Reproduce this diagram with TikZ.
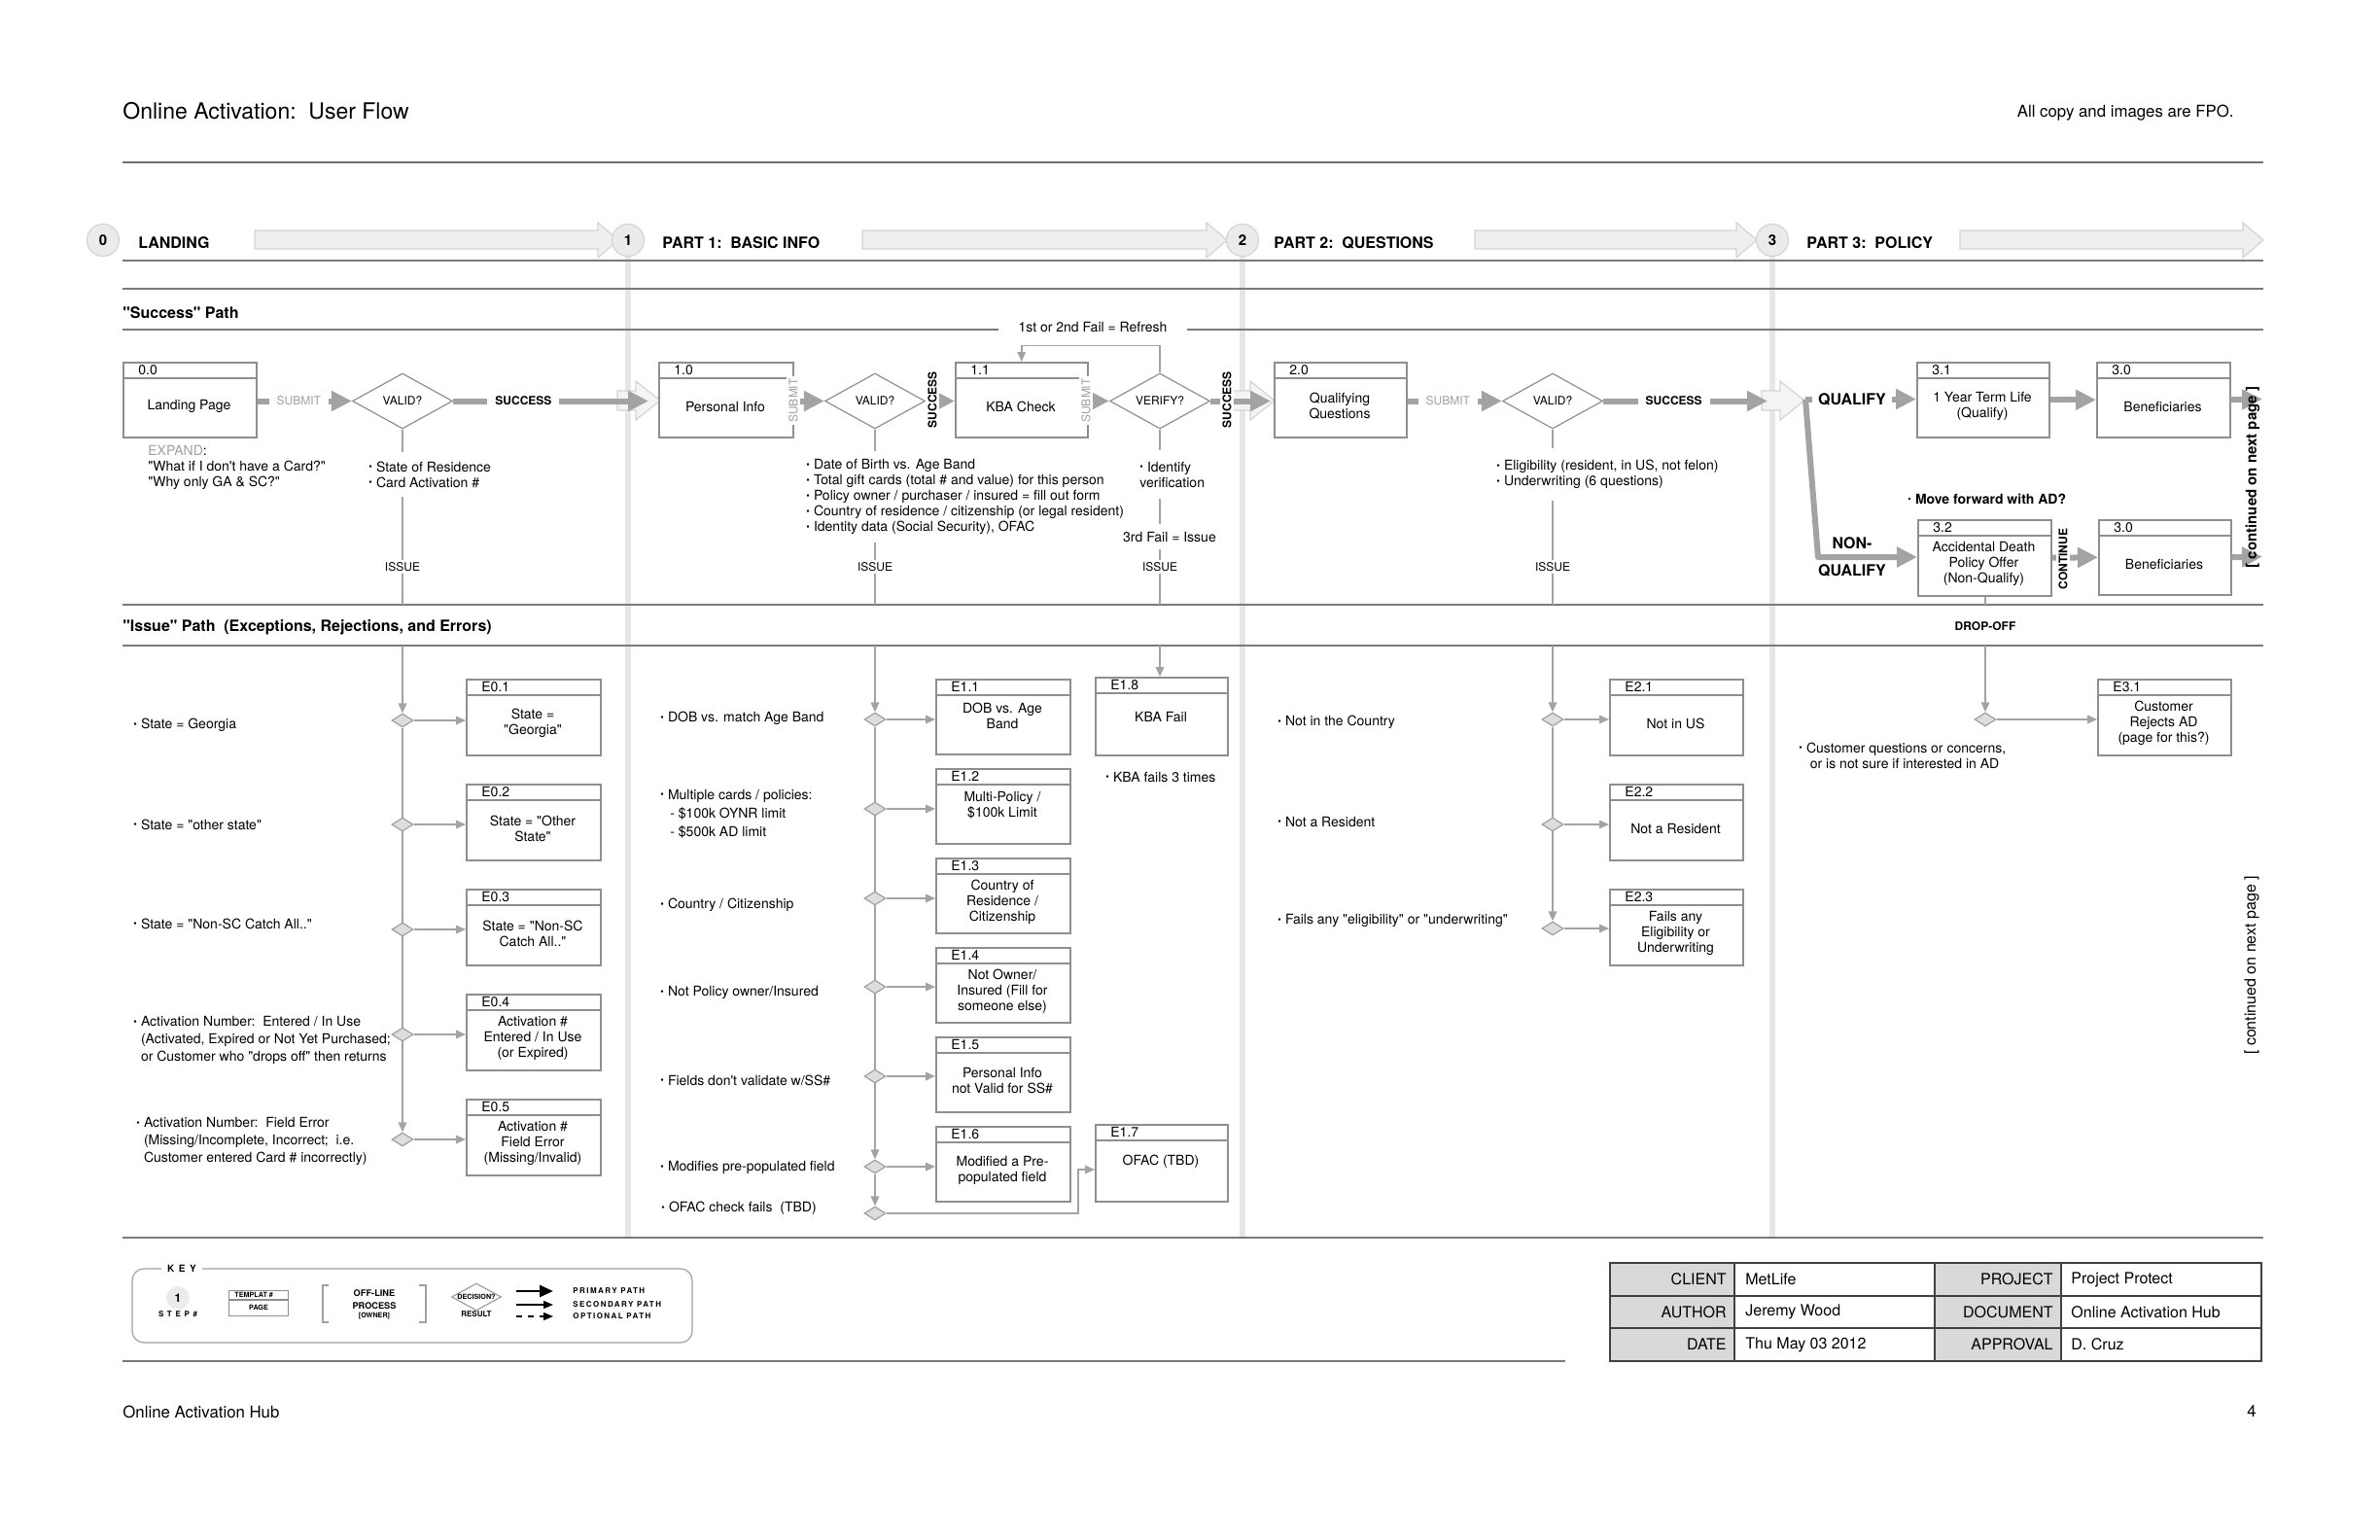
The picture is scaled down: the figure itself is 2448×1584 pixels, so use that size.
\documentclass[tikz,border=0pt]{standalone}
\usepackage{fontspec}
\setmainfont{TeX Gyre Heros}[Ligatures=TeXOff]
\newfontfamily\spaced[LetterSpace=18]{TeX Gyre Heros}
\usetikzlibrary{arrows.meta,calc,shapes.geometric}
\pgfdeclarelayer{back}
\pgfdeclarelayer{bg}
\pgfsetlayers{back,bg,main}
\definecolor{boxgray}{HTML}{8F8F8F}
\definecolor{arrgray}{HTML}{A3A3A3}
\definecolor{rulegray}{HTML}{7A7A7A}
\definecolor{sepgray}{HTML}{E6E6E6}
\definecolor{phasefill}{HTML}{EFEFEF}
\definecolor{phaseline}{HTML}{D4D4D4}
\definecolor{cellgray}{HTML}{D9D9D9}
\definecolor{sdfill}{HTML}{DDDDDD}
\definecolor{subgray}{HTML}{A0A0A0}
\definecolor{circfill}{HTML}{EBEBEB}
\newcommand\fs[2]{\fontsize{#1}{#2}\selectfont}
\newcommand\bul{\makebox[3.8pt][l]{\raisebox{0.6pt}{\fontsize{5}{5}\selectfont •}}}
\newcommand\bind{\hspace*{3.8pt}}
% page box: name, xl, yt, xr, yb, number, text y, text
\newcommand\pgbox[8]{%
  \pgfmathsetmacro\bw{(#4-#2)*0.5}\pgfmathsetmacro\bh{(#5-#3)*0.5}%
  \node[pagebox, minimum width=\bw pt, minimum height=\bh pt, anchor=north west] (#1) at (#2,#3) {};
  \draw[boxline] ([yshift=-8.5pt]#1.north west) -- ([yshift=-8.5pt]#1.north east);
  \node[boxnum, anchor=west] (#1-n) at ([xshift=8pt,yshift=-4.25pt]#1.north west) {#6};
  \node[boxtext] (#1-t) at ({(#2+#4)/2},#7) {#8};
}
\newcommand\phasearrow[2]{\draw[draw=phaseline, fill=phasefill, line width=0.6pt] (#1,237) -- ({#2-21},237) -- ({#2-21},229) -- (#2,247) -- ({#2-21},265) -- ({#2-21},256) -- (#1,256) -- cycle;}
\newcommand\chev[1]{\draw[draw=phaseline, fill=phasefill!70, line width=0.6pt] ({#1-11},402) -- ({#1+8},402) -- ({#1+8},392) -- ({#1+33},412) -- ({#1+8},432) -- ({#1+8},422) -- ({#1-11},422) -- cycle;}
\begin{document}
\begin{tikzpicture}[x=0.5pt,y=-0.5pt,
  pagebox/.style={draw=boxgray, line width=0.75pt, fill=white, inner sep=0pt, rectangle},
  boxline/.style={draw=boxgray, line width=0.75pt},
  boxnum/.style={inner sep=0pt, font=\fs{7}{8}},
  boxtext/.style={inner sep=0pt, align=center, font=\fs{7}{8}},
  bigdia/.style={diamond, draw=boxgray, fill=white, line width=0.6pt, minimum width=51.5pt, minimum height=28.5pt, inner sep=0pt, aspect=1.8, font=\fs{6}{7}},
  smdia/.style={diamond, draw=subgray, fill=sdfill, line width=0.6pt, minimum width=11pt, minimum height=7pt, inner sep=0pt, aspect=1.6},
  pri/.style={draw=arrgray, line width=3pt, -{Triangle[length=10.5pt,width=10pt]}},
  sec/.style={draw=arrgray, line width=0.75pt, -{Triangle[length=5pt,width=4.3pt]}},
  secline/.style={draw=arrgray, line width=0.75pt},
  hrule/.style={draw=rulegray, line width=1pt},
  lab/.style={fill=white, inner sep=1.2pt, font=\fs{6}{7}},
  blab/.style={fill=white, inner sep=1.2pt, font=\fs{6}{7}\bfseries},
  bullets/.style={inner sep=0pt, align=left, anchor=west, font=\fs{7}{8}},
  stepc/.style={circle, fill=circfill, draw=phaseline, line width=0.6pt, minimum size=16.5pt, inner sep=0pt, font=\fs{7.5}{8}\bfseries},
  phlab/.style={anchor=west, inner sep=0pt, font=\fs{8}{9}\bfseries},
  tl/.style={inner sep=0pt, font=\fs{8}{9}},
  keyt/.style={inner sep=0pt, font=\spaced\bfseries\fs{4}{5}},
]
\useasboundingbox (0,0) rectangle (2448,1584);
\begin{pgfonlayer}{back}
\fill[white] (0,0) rectangle (2448,1584);
\end{pgfonlayer}

% header
\node[anchor=west, inner sep=0pt, font=\fs{11.5}{13}] (title) at (126,114) {Online Activation:\ \ User Flow};
\node[anchor=east, inner sep=0pt, font=\fs{8.4}{10}] (fpo) at (2298,116) {All copy and images are FPO.};
\draw[draw=rulegray!90!black, line width=1.2pt] (126,167) -- (2328,167);

% separators
\foreach \x in {646,1278,1823} \draw[draw=sepgray, line width=3pt] (\x,247) -- (\x,1273);

% horizontal rules
\draw[hrule] (126,268) -- (2328,268);
\draw[draw=rulegray, line width=0.6pt] (126,297) -- (2328,297);
\node[anchor=west, inner sep=0pt, font=\fs{8}{9}\bfseries] (succp) at (126,322) {"Success" Path};
\node[inner xsep=10pt, inner ysep=0pt, font=\fs{7}{8}] (refresh) at (1124,336) {1st or 2nd Fail = Refresh};
\coordinate (r339a) at (126,339);
\coordinate (r339b) at (2328,339);
\draw[hrule] (r339a) -- (r339a -| refresh.west);
\draw[hrule] (r339b -| refresh.east) -- (r339b);
\draw[hrule] (126,622) -- (2328,622);
\node[anchor=west, inner sep=0pt, font=\fs{8}{9}\bfseries] (issp) at (126,645) {"Issue" Path\ \ (Exceptions, Rejections, and Errors)};
\draw[hrule] (126,664) -- (2328,664);
\draw[hrule] (126,1273) -- (2328,1273);

% phase header
\phasearrow{262}{636}
\phasearrow{887}{1262}
\phasearrow{1517}{1807}
\phasearrow{2016}{2328}
\node[stepc] (c0) at (106,247) {0};
\node[stepc] (c1) at (646,247) {1};
\node[stepc] (c2) at (1278,247) {2};
\node[stepc] (c3) at (1823,247) {3};
\node[phlab] (p0) at (142,250) {LANDING};
\node[phlab] (p1) at (681,250) {PART 1:\ \ BASIC INFO};
\node[phlab] (p2) at (1310,250) {PART 2:\ \ QUESTIONS};
\node[phlab] (p3) at (1858,250) {PART 3:\ \ POLICY};

% chevrons at phase boundaries
\chev{646}
\chev{1278}
\chev{1823}

% success row
\pgbox{b00}{126}{372}{263}{449}{0.0}{418}{Landing Page}
\node[bigdia] (d0) at (414,412.5) {VALID?};
\pgbox{b10}{677}{372}{815}{449}{1.0}{418}{Personal Info}
\node[bigdia] (d1) at (900,412.5) {VALID?};
\pgbox{b11}{982}{372}{1118}{449}{1.1}{418}{KBA Check}
\node[bigdia] (d2) at (1193,412.5) {VERIFY?};
\pgbox{b20}{1310}{372}{1446}{449}{2.0}{418}{Qualifying\\Questions}
\node[bigdia] (d3) at (1597,412.5) {VALID?};
\pgbox{b31}{1971}{372}{2107}{449}{3.1}{418}{1 Year Term Life\\(Qualify)}
\pgbox{b30a}{2156}{372}{2293}{449}{3.0}{418}{Beneficiaries}
\pgbox{b32}{1972}{534}{2109}{612}{3.2}{580}{Accidental Death\\Policy Offer\\(Non-Qualify)}
\pgbox{b30b}{2158}{534}{2294}{611}{3.0}{580}{Beneficiaries}

\node[anchor=west, inner sep=0pt, align=left, font=\fs{7}{8.2}] (expand) at (152,481) {{\color{subgray}EXPAND}:\\"What if I don't have a Card?"\\"Why only GA \& SC?"};

\draw[pri] (b00.east |- d0) -- node[lab, text=subgray, pos=0.44, inner xsep=4pt] (sub0) {SUBMIT} (d0.west);
\draw[pri] (d0.east) -- node[blab, pos=0.36, inner xsep=4pt] (suc0) {SUCCESS} ($(b10.west |- d0)+(-10,0)$);
\draw[pri] (b10.east |- d1) -- (d1.west);
\node[lab, rotate=90, text=subgray] (sub10) at (816,412) {SUBMIT};
\draw[pri] (d1.east) -- (b11.west |- d1);
\node[blab, rotate=90] (suc1) at (959,411) {SUCCESS};
\draw[pri] (b11.east |- d2) -- (d2.west);
\node[lab, rotate=90, text=subgray] (sub11) at (1117,412) {SUBMIT};
\draw[sec] (d2.north) -- ++(0,-28) -| (b11.north);
\draw[pri] (d2.east) -- ($(b20.west |- d2)+(-3,0)$);
\node[blab, rotate=90] (suc2) at (1262,411) {SUCCESS};
\draw[pri] (b20.east |- d3) -- node[lab, text=subgray, pos=0.43, inner xsep=4pt] (sub2) {SUBMIT} (d3.west);
\coordinate (s3tip) at (1818,412.5);
\draw[pri] (d3.east) -- node[blab, pos=0.43, inner xsep=4pt] (suc3) {SUCCESS} (s3tip);

% part 3 branches
\coordinate (br) at (1857,410.5);
\coordinate (br2) at (1870,573);
\draw[pri] (br) -- node[fill=white, inner xsep=3pt, inner ysep=1pt, font=\fs{8}{9}\bfseries, pos=0.42] (qual) {QUALIFY} (b31.west |- br);
\draw[pri, line join=round] (br) -- (br2) -- (b32.west |- br2);
\node[inner sep=0pt, font=\fs{8}{9}\bfseries] (nonq1) at (1905,559) {NON-};
\node[inner sep=0pt, font=\fs{8}{9}\bfseries] (nonq2) at (1905,587) {QUALIFY};
\draw[pri] (b31.east) -- (b30a.west);
\coordinate (cont1) at (2327,410.5);
\draw[pri] (b30a.east) -- (cont1);
\draw[pri] (b32.east) -- (b30b.west);
\node[blab, rotate=90] (contl) at (2122,575) {CONTINUE};
\coordinate (cont2) at (2327,572.5);
\draw[pri] (b30b.east) -- (cont2);
\node[anchor=west, inner sep=0pt, font=\fs{7}{8}\bfseries] (mf) at (1962,513) {\bul Move forward with AD?};
\node[rotate=90, inner sep=0pt, font=\fs{7.5}{8}\bfseries] (cnp1) at (2317,491) {[ continued on next page ]};
\node[rotate=90, inner sep=0pt, font=\fs{8}{9}] (cnp2) at (2316,993) {[ continued on next page ]};

% issue drops from success row
\coordinate (i0a) at (414,622);  \coordinate (i0b) at (414,664);
\coordinate (i1a) at (900,622);  \coordinate (i1b) at (900,664);
\coordinate (i2a) at (1193,622); \coordinate (i2b) at (1193,664);
\coordinate (i3a) at (1597,622); \coordinate (i3b) at (1597,664);
\coordinate (i4a) at (2042,622); \coordinate (i4b) at (2042,664);
\draw[secline] (d0.south) -- (i0a);
\draw[secline] (d1.south) -- (i1a);
\draw[secline] (d2.south) -- (i2a);
\draw[secline] (d3.south) -- (i3a);
\draw[secline] (b32.south -| i4a) -- (i4a);

\node[bullets, fill=white, inner ysep=5pt, inner xsep=2pt] (bl0) at (375,488) {\bul State of Residence\\\bul Card Activation \#};
\node[lab] (is0) at (414,583) {ISSUE};
\node[bullets, fill=white, inner ysep=4pt, inner xsep=2pt] (bl1) at (825,511) {\bul Date of Birth vs. Age Band\\\bul Total gift cards (total \# and value) for this person\\\bul Policy owner / purchaser / insured = fill out form\\\bul Country of residence / citizenship (or legal resident)\\\bul Identity data (Social Security), OFAC};
\node[lab] (is1) at (900,583) {ISSUE};
\node[bullets, fill=white, inner ysep=6pt, inner xsep=2pt] (bl2) at (1168,488) {\bul Identify\\verification};
\node[fill=white, inner xsep=1pt, inner ysep=4pt, font=\fs{7}{8}] (f3) at (1203,552) {3rd Fail = Issue};
\node[lab] (is2) at (1193,583) {ISSUE};
\node[bullets, fill=white, inner ysep=6pt, inner xsep=2pt] (bl3) at (1535,488) {\bul Eligibility (resident, in US, not felon)\\\bul Underwriting (6 questions)};
\node[lab] (is3) at (1597,583) {ISSUE};
\node[inner sep=0pt, font=\fs{6}{7}\bfseries] (drop) at (2042,644) {DROP-OFF};

% ---------- issue section, phase 0
\pgbox{e01}{479}{698}{617}{776}{E0.1}{744}{State =\\"Georgia"}
\pgbox{e02}{479}{806}{617}{884}{E0.2}{852}{State = "Other\\State"}
\pgbox{e03}{479}{914}{617}{992}{E0.3}{960}{State = "Non-SC\\Catch All.."}
\pgbox{e04}{479}{1022}{617}{1100}{E0.4}{1068}{Activation \#\\Entered / In Use\\(or Expired)}
\pgbox{e05}{479}{1130}{617}{1208}{E0.5}{1176}{Activation \#\\Field Error\\(Missing/Invalid)}
\node[smdia] (s01) at (414,741) {};
\node[smdia] (s02) at (414,848) {};
\node[smdia] (s03) at (414,956) {};
\node[smdia] (s04) at (414,1064) {};
\node[smdia] (s05) at (414,1172) {};
\draw[sec] (i0b) -- (s01.north);
\begin{pgfonlayer}{bg}
\draw[sec] (s01.south) -- (s05.north);
\end{pgfonlayer}
\foreach \i in {1,...,5} \draw[sec] (s0\i.east) -- (s0\i.east -| e0\i.west);
\node[bullets] (q01) at (137,746) {\bul State = Georgia};
\node[bullets] (q02) at (137,848) {\bul State = "other state"};
\node[bullets] (q03) at (137,950) {\bul State = "Non-SC Catch All.."};
\node[bullets, font=\fs{7}{9}] (q04) at (137,1070) {\bul Activation Number:\ \ Entered / In Use\\\bind(Activated, Expired or Not Yet Purchased;\\\bind or Customer who "drops off" then returns};
\node[bullets, font=\fs{7}{9}] (q05) at (140,1174) {\bul Activation Number:\ \ Field Error\\\bind(Missing/Incomplete, Incorrect;\ \ i.e.\\\bind Customer entered Card \# incorrectly)};

% ---------- issue section, phase 1
\pgbox{e11}{962}{698}{1100}{775}{E1.1}{736}{DOB vs. Age\\Band}
\pgbox{e12}{962}{790}{1100}{867}{E1.2}{828}{Multi-Policy /\\\$100k Limit}
\pgbox{e13}{962}{882}{1100}{959}{E1.3}{928}{Country of\\Residence /\\Citizenship}
\pgbox{e14}{962}{974}{1100}{1051}{E1.4}{1020}{Not Owner/\\Insured (Fill for\\someone else)}
\pgbox{e15}{962}{1066}{1100}{1143}{E1.5}{1112}{Personal Info\\not Valid for SS\#}
\pgbox{e16}{962}{1158}{1100}{1235}{E1.6}{1204}{Modified a Pre-\\populated field}
\pgbox{e18}{1126}{696}{1262}{776}{E1.8}{737}{KBA Fail}
\pgbox{e17}{1126}{1156}{1262}{1235}{E1.7}{1195}{OFAC (TBD)}
\node[smdia] (t1) at (900,740) {};
\node[smdia] (t2) at (900,832) {};
\node[smdia] (t3) at (900,924) {};
\node[smdia] (t4) at (900,1015) {};
\node[smdia] (t5) at (900,1107) {};
\node[smdia] (t6) at (900,1200) {};
\node[smdia] (t7) at (900,1248) {};
\draw[sec] (i1b) -- (t1.north);
\begin{pgfonlayer}{bg}
\draw[sec] (t1.south) -- (t6.north);
\draw[sec] (t6.south) -- (t7.north);
\end{pgfonlayer}
\foreach \i in {1,...,6} \draw[sec] (t\i.east) -- (t\i.east -| e1\i.west);
\coordinate (k17) at (1109,1203);
\draw[sec] (t7.east) -| (k17) -- (k17 -| e17.west);
\draw[sec] (i2b) -- (i2b |- e18.north);
\node[bullets] (q11) at (679,739) {\bul DOB vs. match Age Band};
\node[bullets, font=\fs{7}{9.6}] (q12) at (679,837) {\bul Multiple cards / policies:\\\hspace*{5pt}- \$100k OYNR limit\\\hspace*{5pt}- \$500k AD limit};
\node[bullets] (q13) at (679,931) {\bul Country / Citizenship};
\node[bullets] (q14) at (679,1021) {\bul Not Policy owner/Insured};
\node[bullets] (q15) at (679,1111) {\bul Fields don't validate w/SS\#};
\node[bullets] (q16) at (679,1201) {\bul Modifies pre-populated field};
\node[bullets] (q17) at (680,1243) {\bul OFAC check fails\ \ (TBD)};
\node[bullets] (q18) at (1137,799) {\bul KBA fails 3 times};

% ---------- issue section, phase 2
\pgbox{e21}{1655}{698}{1792}{776}{E2.1}{744}{Not in US}
\pgbox{e22}{1655}{806}{1792}{884}{E2.2}{852}{Not a Resident}
\pgbox{e23}{1655}{914}{1792}{992}{E2.3}{960}{Fails any\\Eligibility or\\Underwriting}
\node[smdia] (u1) at (1597,740) {};
\node[smdia] (u2) at (1597,848) {};
\node[smdia] (u3) at (1597,955) {};
\draw[sec] (i3b) -- (u1.north);
\begin{pgfonlayer}{bg}
\draw[sec] (u1.south) -- (u3.north);
\end{pgfonlayer}
\foreach \i in {1,2,3} \draw[sec] (u\i.east) -- (u\i.east -| e2\i.west);
\node[bullets] (q21) at (1314,743) {\bul Not in the Country};
\node[bullets] (q22) at (1314,845) {\bul Not a Resident};
\node[bullets] (q23) at (1314,947) {\bul Fails any "eligibility" or "underwriting"};

% ---------- issue section, phase 3
\pgbox{e31}{2157}{698}{2294}{776}{E3.1}{744}{Customer\\Rejects AD\\(page for this?)}
\node[smdia] (v1) at (2042,740) {};
\draw[sec] (i4b) -- (v1.north);
\draw[sec] (v1.east) -- (v1.east -| e31.west);
\node[bullets] (q31) at (1850,777) {\bul Customer questions or concerns,\\\bind\ or is not sure if interested in AD};

% ---------- key
\draw[draw=subgray, line width=0.6pt, rounded corners=6pt] (136,1305) rectangle (712,1381);
\node[fill=white, inner xsep=3pt, inner ysep=1pt, font=\spaced\bfseries\fs{5}{6}] (kkey) at (187,1305) {K E Y};
\node[circle, fill=circfill, minimum size=12pt, inner sep=0pt, font=\bfseries\fs{6}{7}] (kstep) at (183,1335) {1};
\node[keyt] (ksteplab) at (183,1352) {S T E P \#};
\node[draw=boxgray, line width=0.6pt, minimum width=30.5pt, minimum height=13pt, anchor=north west, inner sep=0pt] (ktpl) at (235,1327) {};
\draw[draw=boxgray, line width=0.6pt] ([yshift=-5pt]ktpl.north west) -- ([yshift=-5pt]ktpl.north east);
\node[anchor=west, inner sep=0pt, font=\bfseries\fs{3.6}{4}] (ktplt) at (241,1332) {TEMPLAT \#};
\node[inner sep=0pt, font=\bfseries\fs{3.6}{4}] (kpage) at (266,1345) {PAGE};
\draw[draw=subgray, line width=0.7pt] (338,1322) -| (332,1360) -- (338,1360);
\draw[draw=subgray, line width=0.7pt] (431,1322) -| (438,1360) -- (431,1360);
\node[align=center, inner sep=0pt, font=\bfseries\fs{4.6}{6.5}] (koff) at (385,1336.5) {OFF-LINE\\PROCESS};
\node[inner sep=0pt, font=\bfseries\fs{3.6}{4}] (kown) at (385,1354) {[OWNER]};
\node[diamond, draw=subgray, fill=white, line width=0.6pt, minimum width=25.5pt, minimum height=14pt, inner sep=0pt, aspect=1.8, font=\bfseries\fs{3.6}{4}] (kdec) at (490,1334) {DECISION?};
\node[inner sep=0pt, font=\bfseries\fs{4}{5}] (kres) at (490,1352) {RESULT};
\coordinate (ka1) at (531,1328); \coordinate (kb1) at (569,1328);
\coordinate (ka2) at (531,1342); \coordinate (kb2) at (569,1342);
\coordinate (ka3) at (531,1354); \coordinate (kb3) at (569,1354);
\draw[black, line width=1.3pt, -{Triangle[length=7pt,width=6pt]}] (ka1) -- (kb1);
\draw[black, line width=0.6pt, -{Triangle[length=5pt,width=4pt]}] (ka2) -- (kb2);
\draw[black, line width=0.6pt, dashed, -{Triangle[length=5pt,width=4pt]}] (ka3) -- (kb3);
\node[keyt, anchor=west] (kp1) at (589,1328) {PRIMARY PATH};
\node[keyt, anchor=west] (kp2) at (589,1342) {SECONDARY PATH};
\node[keyt, anchor=west] (kp3) at (589,1354) {OPTIONAL PATH};

% ---------- title block
\fill[cellgray] (1656,1299) rectangle (1784,1400);
\fill[cellgray] (1990,1299) rectangle (2120,1400);
\draw[draw=black!75, line width=0.6pt] (1656,1299) rectangle (2326,1400);
\draw[draw=black!75, line width=0.6pt] (1656,1333) -- (2326,1333) (1656,1366) -- (2326,1366) (1784,1299) -- (1784,1400) (1990,1299) -- (1990,1400) (2120,1299) -- (2120,1400);
\node[tl, anchor=east] (tc1) at (1776,1316) {CLIENT};
\node[tl, anchor=west] (tv1) at (1795,1316) {MetLife};
\node[tl, anchor=east] (tc2) at (1776,1349.5) {AUTHOR};
\node[tl, anchor=west] (tv2) at (1795,1349.5) {Jeremy Wood};
\node[tl, anchor=east] (tc3) at (1776,1383) {DATE};
\node[tl, anchor=west] (tv3) at (1795,1383) {Thu May 03 2012};
\node[tl, anchor=east] (tp1) at (2112,1316) {PROJECT};
\node[tl, anchor=west] (tq1) at (2130,1316) {Project Protect};
\node[tl, anchor=east] (tp2) at (2112,1349.5) {DOCUMENT};
\node[tl, anchor=west] (tq2) at (2130,1349.5) {Online Activation Hub};
\node[tl, anchor=east] (tp3) at (2112,1383) {APPROVAL};
\node[tl, anchor=west] (tq3) at (2130,1383) {D. Cruz};

% footer
\draw[draw=rulegray, line width=1pt] (126,1400) -- (1610,1400);
\node[anchor=west, inner sep=0pt, font=\fs{8.4}{10}] (foot) at (126,1452) {Online Activation Hub};
\node[inner sep=0pt, font=\fs{8.4}{10}] (pgno) at (2316,1452) {4};
\end{tikzpicture}
\end{document}
